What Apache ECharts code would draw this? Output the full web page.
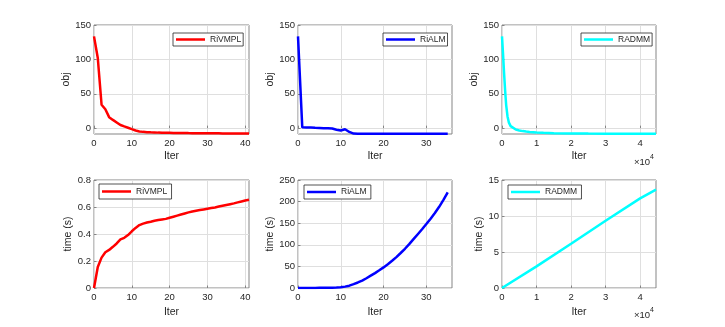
<!DOCTYPE html>
<html>
<head>
<meta charset="utf-8">
<script src="https://cdn.jsdelivr.net/npm/echarts@6/dist/echarts.min.js"></script>
<style>
  html, body { margin: 0; padding: 0; background: #fff; }
  #chart { width: 725px; height: 327px; }
</style>
</head>
<body>
<div id="chart"></div>
<script>
// values (x = iteration index for RiVMPL / RiALM)
const rivmplObj = [133.5, 102, 34, 27.5, 16, 12, 8.3, 4.6, 2.5, 0.6, -1.5, -3.4, -4.8, -5.4, -5.8, -6.1,
  -6.3, -6.5, -6.6, -6.7, -6.8, -6.9, -7.0, -7.05, -7.1, -7.2, -7.25, -7.3, -7.35, -7.4, -7.45,
  -7.5, -7.5, -7.55, -7.6, -7.6, -7.65, -7.7, -7.7, -7.75, -7.8, -7.8];
const rivmplTime = [0, 0.156, 0.225, 0.265, 0.282, 0.305, 0.33, 0.36, 0.372, 0.392, 0.42, 0.445, 0.466,
  0.477, 0.485, 0.491, 0.498, 0.503, 0.508, 0.512, 0.52, 0.528, 0.536, 0.544, 0.552, 0.56, 0.567,
  0.572, 0.577, 0.582, 0.587, 0.592, 0.597, 0.603, 0.609, 0.615, 0.621, 0.627, 0.634, 0.641, 0.648, 0.654];
const rialmObj = [133.5, 1.2, 1, 0.8, 0.5, 0.3, 0, -0.3, -0.6, -2.2, -3.5, -1.6, -5.5, -7.9, -8.2,
  -8.3, -8.3, -8.3, -8.3, -8.3, -8.3, -8.3, -8.3, -8.3, -8.3, -8.3, -8.3, -8.3, -8.3, -8.3, -8.3,
  -8.3, -8.3, -8.3, -8.3, -8.3];
const rialmTime = [0, 0.05, 0.1, 0.15, 0.2, 0.3, 0.4, 0.5, 0.7, 0.9, 1.5, 3.2, 5.4, 9, 12.8, 17, 22.5,
  28.5, 34.5, 41, 47.7, 55, 63, 71.5, 81, 90.8, 101.5, 113, 124.5, 136, 148, 160.5, 173.5, 188, 204, 221.5];
const radmmObjIter = [0, 300, 600, 900, 1200, 1600, 2000, 2500, 3000, 4000, 5000, 6000, 7000, 8000,
  10000, 12000, 15000, 20000, 25000, 30000, 35000, 44600];
const radmmObj = [133.5, 108, 80, 55, 34, 17, 8, 3, 0.5, -2, -3.3, -4.3, -5, -5.5, -6.3, -6.8, -7.3,
  -7.7, -7.9, -8.0, -8.1, -8.2];
const radmmTimeIter = [0, 10000, 20000, 30000, 40000, 44600];
const radmmTime = [0, 3.0, 6.15, 9.35, 12.45, 13.65];

const iterTicks = [0, 10, 20, 30, 40];
const iterTicksRialm = [0, 10, 20, 30];
const iterTicksRadmm = [0, 10000, 20000, 30000, 40000];
const objTicks = [0, 50, 100, 150];
const timeTicksRivmpl = [0, 0.2, 0.4, 0.6, 0.8];
const timeTicksRialm = [0, 50, 100, 150, 200, 250];
const timeTicksRadmm = [0, 5, 10, 15];

const FONT = 'Liberation Sans, Arial, Helvetica, sans-serif';
const INK = '#262626';
const BOX = '#858585';
const GRIDLINE = '#dfdfdf';

const byIndex = (ys) => ys.map((y, i) => [i, y]);
const zip = (xs, ys) => ys.map((y, i) => [xs[i], y]);

const boxes = [
  { left: 94, top: 25, width: 155, height: 109 },
  { left: 298, top: 25, width: 154, height: 109 },
  { left: 502, top: 25, width: 154, height: 109 },
  { left: 94, top: 180, width: 155, height: 108 },
  { left: 298, top: 180, width: 154, height: 108 },
  { left: 502, top: 180, width: 154, height: 108 },
];

function xAxis(i, max, ticks, gap, fmt) {
  return {
    type: 'value', gridIndex: i, min: 0, max: max,
    name: 'Iter', nameLocation: 'middle', nameGap: gap,
    nameTextStyle: { color: INK, fontSize: 10.5, fontFamily: FONT },
    axisLine: { show: false },
    axisTick: { show: true, inside: true, length: 2.5, customValues: ticks, lineStyle: { color: BOX } },
    axisLabel: { color: INK, fontSize: 9.5, fontFamily: FONT, margin: 4, customValues: ticks,
      formatter: fmt || (v => String(v)) },
    splitLine: { show: true, lineStyle: { color: GRIDLINE, width: 1 } },
  };
}

function yAxis(i, min, max, ticks, name, gap) {
  return {
    type: 'value', gridIndex: i, min: min, max: max,
    name: name, nameLocation: 'middle', nameGap: gap,
    nameTextStyle: { color: INK, fontSize: 10.5, fontFamily: FONT },
    axisLine: { show: false },
    axisTick: { show: true, inside: true, length: 2.5, customValues: ticks, lineStyle: { color: BOX } },
    axisLabel: { color: INK, fontSize: 9.5, fontFamily: FONT, margin: 3, customValues: ticks },
    splitLine: { show: true, lineStyle: { color: GRIDLINE, width: 1 } },
  };
}

function line(name, i, data, color) {
  return {
    type: 'line', name: name, xAxisIndex: i, yAxisIndex: i, data: data,
    symbol: 'none', smooth: false, animation: false,
    lineStyle: { color: color, width: 2.5 }, itemStyle: { color: color },
  };
}

function legend(name, left, top, padY) {
  return {
    data: [name], left: left, top: top, orient: 'horizontal',
    icon: 'rect', itemWidth: 29, itemHeight: 2.5, itemGap: 0,
    backgroundColor: '#fff', borderColor: INK, borderWidth: 0.8,
    padding: [padY, 2, padY, 3],
    textStyle: { color: INK, fontSize: 8.5, fontFamily: FONT },
  };
}

const timesTen = (v) => String(v / 10000);

const sup = {
  a: { fontSize: 9.5, fontFamily: FONT, fill: INK, lineHeight: 13, verticalAlign: 'bottom' },
  b: { fontSize: 7, fontFamily: FONT, fill: INK, lineHeight: 13, verticalAlign: 'top' },
};

const option = {
  backgroundColor: '#fff',
  animation: false,
  textStyle: { fontFamily: FONT },
  grid: boxes.map(b => Object.assign({ show: true, borderColor: BOX, borderWidth: 1,
    backgroundColor: '#fff', containLabel: false }, b)),
  xAxis: [
    xAxis(0, 41, iterTicks, 17),
    xAxis(1, 36, iterTicksRialm, 17),
    xAxis(2, 44600, iterTicksRadmm, 17, timesTen),
    xAxis(3, 41, iterTicks, 18.5),
    xAxis(4, 36, iterTicksRialm, 18.5),
    xAxis(5, 44600, iterTicksRadmm, 18.5, timesTen),
  ],
  yAxis: [
    yAxis(0, -8.5, 150, objTicks, 'obj', 21),
    yAxis(1, -8.5, 150, objTicks, 'obj', 19),
    yAxis(2, -8.5, 150, objTicks, 'obj', 20),
    yAxis(3, 0, 0.8, timeTicksRivmpl, 'time (s)', 15),
    yAxis(4, 0, 250, timeTicksRialm, 'time (s)', 17),
    yAxis(5, 0, 15, timeTicksRadmm, 'time (s)', 14),
  ],
  legend: [
    legend('RiVMPL', 173, 33, 2),
    legend('RiALM', 383, 33, 2),
    legend('RADMM', 581, 33, 2),
    legend('RiVMPL ', 99, 184, 3),
    legend('RiALM ', 304, 185, 2.5),
    legend('RADMM ', 508, 185, 2.5),
  ],
  series: [
    line('RiVMPL', 0, byIndex(rivmplObj), '#ff0000'),
    line('RiALM', 1, byIndex(rialmObj), '#0000ff'),
    line('RADMM', 2, zip(radmmObjIter, radmmObj), '#00ffff'),
    line('RiVMPL ', 3, byIndex(rivmplTime), '#ff0000'),
    line('RiALM ', 4, byIndex(rialmTime), '#0000ff'),
    line('RADMM ', 5, zip(radmmTimeIter, radmmTime), '#00ffff'),
  ],
  graphic: [
    { type: 'text', left: 634, top: 154, style: { text: '{a|×10}{b|4}', rich: sup } },
    { type: 'text', left: 634, top: 307, style: { text: '{a|×10}{b|4}', rich: sup } },
  ],
};

const chart = echarts.init(document.getElementById('chart'), null, { renderer: 'canvas' });
chart.setOption(option);
</script>
</body>
</html>
